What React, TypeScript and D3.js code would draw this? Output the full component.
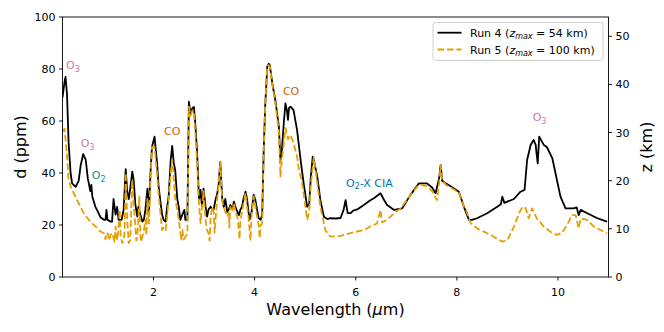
import React from 'react';
import * as d3 from 'd3';

// Run 4 (z_max = 54 km)
const run4Wavelength = [
  0.2, 0.24, 0.26, 0.29, 0.32, 0.36, 0.39, 0.46, 0.52, 0.56, 0.61, 0.66, 0.7, 0.75, 0.77, 0.79, 0.85, 0.89, 0.95,
  1.02, 1.05, 1.07, 1.09, 1.15, 1.18, 1.21, 1.25, 1.28, 1.31, 1.37, 1.41, 1.45, 1.48, 1.51, 1.54, 1.58, 1.61, 1.64,
  1.68, 1.7, 1.74, 1.78, 1.81, 1.84, 1.88, 1.91, 1.94, 1.97, 2.02, 2.07, 2.1, 2.14, 2.17, 2.2, 2.24, 2.27, 2.3, 2.34,
  2.37, 2.4, 2.43, 2.47, 2.5, 2.53, 2.57, 2.61, 2.63, 2.67, 2.7, 2.73, 2.77, 2.8, 2.83, 2.86, 2.9, 2.93, 2.96, 2.99,
  3.03, 3.06, 3.09, 3.13, 3.16, 3.19, 3.23, 3.26, 3.29, 3.32, 3.36, 3.39, 3.42, 3.46, 3.49, 3.52, 3.56, 3.59, 3.62,
  3.66, 3.69, 3.72, 3.75, 3.78, 3.82, 3.85, 3.88, 3.9, 3.94, 3.98, 4.01, 4.04, 4.08, 4.12, 4.15, 4.18, 4.21, 4.25,
  4.28, 4.3, 4.35, 4.41, 4.48, 4.51, 4.54, 4.58, 4.61, 4.64, 4.66, 4.68, 4.71, 4.77, 4.84, 4.91, 4.97, 5.04, 5.08,
  5.11, 5.15, 5.17, 5.24, 5.3, 5.37, 5.44, 5.5, 5.6, 5.7, 5.76, 5.8, 5.84, 5.9, 5.95, 6.03, 6.16, 6.29, 6.36, 6.49,
  6.55, 6.62, 6.76, 6.92, 7.08, 7.25, 7.41, 7.51, 7.58, 7.65, 7.68, 7.71, 7.78, 7.87, 8.04, 8.14, 8.24, 8.3, 8.4,
  8.6, 8.8, 8.87, 8.9, 8.94, 9.0, 9.13, 9.26, 9.34, 9.39, 9.46, 9.52, 9.56, 9.58, 9.6, 9.63, 9.72, 9.78, 9.89, 9.98,
  10.05, 10.15, 10.31, 10.37, 10.41, 10.45, 10.58, 10.78, 10.97,
];
const run4Depth = [
  69, 75, 77, 70, 52, 40, 36, 34.7, 37, 43, 47.3, 45, 38, 33, 35.4, 31, 27, 25.5, 23,
  22, 22, 25.8, 22, 21.3, 21.3, 30, 24, 27, 22, 22, 26, 41.5, 33, 30, 34, 40.5, 37, 28,
  23.2, 27, 24, 21.3, 22, 26, 34, 25, 40, 50, 54, 44, 35, 28.5, 24, 22, 21.3, 27, 31, 45,
  50.4, 44, 41, 30, 27, 22, 24, 25.8, 22, 22, 67.4, 63, 65, 65.4, 58, 48.8, 30, 33.5, 27, 34,
  27, 23.2, 26, 27, 26, 26, 30, 32, 36, 44.3, 30, 27, 30, 25, 26, 27.7, 26, 29, 27,
  25, 23.8, 26, 27, 30, 32.8, 30, 25, 22, 25, 31.6, 30, 27, 22.6, 22, 24, 48.8, 66, 80.9,
  82, 81.5, 74.5, 68, 57.8, 45, 48.8, 60, 66.8, 64, 60.4, 65, 65.5, 64.2, 56.5, 45, 36, 27, 28,
  38, 46.3, 45, 38.6, 29.6, 23.2, 22.3, 22.6, 22.5, 22.7, 25.8, 29.6, 24.6, 24.6, 25.5, 26, 27.7, 29.5, 30.3, 32.2,
  30, 27.7, 25.8, 26.4, 31.5, 36, 36, 34.4, 32.2, 38, 43, 37, 36, 35, 32.8, 27, 22, 22, 22.6,
  24.5, 27, 28, 30.9, 28.5, 29, 30, 32.8, 33.5, 45, 50.8, 52.7, 50.8, 47, 43.7, 54, 50.8, 50, 45.6, 37.3,
  30.9, 26.4, 26.4, 26.8, 23.8, 25.8, 24.5, 22.6, 21.3,
];

// Run 5 (z_max = 100 km)
const run5Wavelength = [
  0.2, 0.24, 0.26, 0.29, 0.32, 0.36, 0.39, 0.49, 0.62, 0.75, 0.89, 0.95, 1.02, 1.05, 1.07, 1.1, 1.12, 1.15, 1.18,
  1.21, 1.23, 1.25, 1.28, 1.3, 1.33, 1.35, 1.38, 1.41, 1.43, 1.45, 1.48, 1.51, 1.54, 1.58, 1.61, 1.64, 1.66, 1.68,
  1.7, 1.72, 1.74, 1.76, 1.78, 1.81, 1.84, 1.86, 1.88, 1.91, 1.94,
  1.97, 2.02, 2.07, 2.1, 2.14, 2.17, 2.2, 2.24, 2.27, 2.3, 2.34, 2.37, 2.4, 2.43, 2.47, 2.5, 2.53, 2.55, 2.57, 2.6,
  2.63, 2.67,
  2.7, 2.73, 2.77, 2.8, 2.83, 2.86, 2.9, 2.93, 2.96, 2.99, 3.03, 3.06, 3.09, 3.11, 3.13, 3.16, 3.19, 3.21, 3.23,
  3.26, 3.29,
  3.32, 3.36, 3.39, 3.42, 3.46, 3.49, 3.5, 3.52, 3.56, 3.59, 3.62, 3.66, 3.69, 3.7, 3.72, 3.75, 3.78, 3.82, 3.85,
  3.88, 3.9, 3.92,
  3.94, 3.98, 4.01, 4.04, 4.08, 4.1, 4.12, 4.15, 4.18, 4.21, 4.25, 4.28, 4.3, 4.35, 4.41, 4.48, 4.51, 4.54, 4.58,
  4.61,
  4.64, 4.66, 4.71, 4.77, 4.84, 4.87, 4.94, 5.04, 5.08, 5.11, 5.17, 5.24, 5.3, 5.4, 5.5, 5.7, 5.9, 6.03, 6.16, 6.29,
  6.42, 6.49, 6.52, 6.62, 6.76, 6.89, 7.08, 7.25, 7.41, 7.51, 7.58, 7.61, 7.65, 7.68, 7.71, 7.78, 7.87, 8.04, 8.14,
  8.17, 8.27, 8.4, 8.6, 8.73, 8.9, 9.0, 9.13, 9.23, 9.3, 9.36, 9.42, 9.49, 9.58, 9.72, 9.85, 9.98, 10.08, 10.18,
  10.28, 10.35, 10.41, 10.45, 10.58, 10.71, 10.91, 10.97,
];
const run5Depth = [
  56, 57, 53, 46.3, 37.3, 35, 33.5, 29.6, 24.5, 21.3, 18.7, 17.5, 16.8, 14.5, 17, 16.5, 14, 16.2, 16.9,
  15, 13.6, 19.4, 14.2, 17, 25.8, 16, 13, 14.2, 18, 40, 22, 13, 14.2, 37.3, 28, 20, 14, 15.5,
  22, 31, 16, 13.5, 15.5, 18, 22, 16, 30, 20.6, 37.3,
  50, 50, 40, 32, 24, 18, 19, 18, 23, 30, 40, 45, 38, 30, 25.8, 22, 17.4, 14, 18, 14.5,
  15.5, 16.5,
  65.5, 62, 64, 63, 55, 45, 28.3, 20.6, 27, 33, 22, 18, 16.8, 14, 23, 27, 25, 17, 23,
  30, 36,
  44.3, 29, 27, 25, 23.2, 25, 19, 27, 25, 28.5, 25, 23, 18, 14.5, 22, 25, 28, 32.2, 27,
  23, 18, 14,
  24, 31, 28, 24, 20, 15, 20, 20.5, 48, 66, 81, 81.5, 81, 74, 67, 56, 38.6, 45, 52,
  57.3,
  55, 53, 54.6, 51.5, 46.3, 42, 36, 22, 25, 35, 46, 36, 27, 18, 15.5, 15.8, 16.9, 17.5, 18, 19.4,
  20.6, 25.8, 21, 22, 24.5, 26.4, 31.5, 35.5, 35, 33, 30.5, 29.6, 36, 43, 37, 35.5, 34.5, 32.5, 27,
  26.5, 20.8, 18.7, 16.8, 15.5, 13.6, 14.2, 19.4, 24.5, 27, 26.5, 22.6, 26.4, 22.6, 19.4, 17.4, 16.2, 17, 20,
  23.8, 23.8, 18.7, 22.5, 22, 19.4, 17.4, 16.8,
];

const xTicks = [2, 4, 6, 8, 10];
const yTicks = [0, 20, 40, 60, 80, 100];
const zTicks = [0, 10, 20, 30, 40, 50];

const annotationText = ['O|3', 'O|3', 'O|2', 'CO', 'CO', 'O|2|-X CIA', 'O|3'];
const annotationWavelength = [0.27, 0.56, 0.78, 2.21, 4.56, 5.81, 9.5];
const annotationDepth = [79.9, 49.9, 37.6, 54.6, 70, 34.7, 60];
const annotationColor = ['#CC79A7', '#CC79A7', '#009E73', '#D55E00', '#D55E00', '#0072B2', '#CC79A7'];

const W = 664;
const H = 332;
const left = 62.5;
const right = 608.5;
const top = 17;
const bottom = 277;
const FONT = 'DejaVu Sans, sans-serif';

function Label({ spec, x, y, color }: { spec: string; x: number; y: number; color: string }) {
  const parts = spec.split('|');
  if (parts.length === 1) {
    return (
      <text x={x} y={y} fill={color} fontSize={11} fontFamily={FONT}>
        {spec}
      </text>
    );
  }
  return (
    <text x={x} y={y} fill={color} fontSize={11} fontFamily={FONT}>
      {parts[0]}
      <tspan dy={2.5} fontSize={8}>{parts[1]}</tspan>
      {parts[2] ? <tspan dy={-2.5}>{parts[2]}</tspan> : null}
    </text>
  );
}

export default function App() {
  const x = d3.scaleLinear().domain([0.2, 11]).range([left, right]);
  const y = d3.scaleLinear().domain([0, 100]).range([bottom, top]);
  const z = d3.scaleLinear().domain([0, 54]).range([bottom, top]);

  const line = d3
    .line<[number, number]>()
    .x((d) => x(d[0]))
    .y((d) => y(d[1]));

  const run4 = run4Wavelength.map((w, i) => [w, run4Depth[i]] as [number, number]);
  const run5 = run5Wavelength.map((w, i) => [w, run5Depth[i]] as [number, number]);

  return (
    <svg
      width={W}
      height={H}
      style={{ position: 'absolute', left: 0, top: 0, background: '#fff' }}
      fontFamily={FONT}
    >
      <rect x={0} y={0} width={W} height={H} fill="#fff" />
      <defs>
        <clipPath id="plotclip">
          <rect x={left} y={top} width={right - left} height={bottom - top} />
        </clipPath>
      </defs>

      <g clipPath="url(#plotclip)">
        <path d={line(run4) || ''} fill="none" stroke="#000" strokeWidth={1.8} strokeLinejoin="round" />
        <path
          d={line(run5) || ''}
          fill="none"
          stroke="#E69F00"
          strokeWidth={1.8}
          strokeDasharray="6.6,2.9"
          strokeLinejoin="round"
        />
      </g>

      {annotationText.map((t, i) => (
        <Label
          key={i}
          spec={t}
          x={x(annotationWavelength[i])}
          y={y(annotationDepth[i])}
          color={annotationColor[i]}
        />
      ))}

      {/* frame */}
      <rect x={left} y={top} width={right - left} height={bottom - top} fill="none" stroke="#000" strokeWidth={0.9} />

      {/* x ticks */}
      {xTicks.map((t) => (
        <g key={'x' + t}>
          <line x1={x(t)} x2={x(t)} y1={bottom} y2={bottom + 3.5} stroke="#000" strokeWidth={0.9} />
          <text x={x(t)} y={bottom + 19} textAnchor="middle" fontSize={11} fill="#000">
            {t}
          </text>
        </g>
      ))}
      {/* left ticks */}
      {yTicks.map((t) => (
        <g key={'y' + t}>
          <line x1={left - 3.5} x2={left} y1={y(t)} y2={y(t)} stroke="#000" strokeWidth={0.9} />
          <text x={left - 7} y={y(t) + 4} textAnchor="end" fontSize={11} fill="#000">
            {t}
          </text>
        </g>
      ))}
      {/* right ticks */}
      {zTicks.map((t) => (
        <g key={'z' + t}>
          <line x1={right} x2={right + 3.5} y1={z(t)} y2={z(t)} stroke="#000" strokeWidth={0.9} />
          <text x={right + 7} y={z(t) + 4} textAnchor="start" fontSize={11} fill="#000">
            {t}
          </text>
        </g>
      ))}

      {/* axis labels */}
      <text x={(left + right) / 2} y={315} textAnchor="middle" fontSize={16} fill="#000">
        Wavelength (<tspan fontStyle="italic">μ</tspan>m)
      </text>
      <text
        transform={`translate(26,${(top + bottom) / 2}) rotate(-90)`}
        textAnchor="middle"
        fontSize={16}
        fill="#000"
      >
        d (ppm)
      </text>
      <text
        transform={`translate(652,${(top + bottom) / 2}) rotate(-90)`}
        textAnchor="middle"
        fontSize={16}
        fill="#000"
      >
        z (km)
      </text>

      {/* legend */}
      <g>
        <rect x={433} y={22.5} width={170} height={38} rx={2.5} fill="#fff" fillOpacity={0.8} stroke="#ccc" strokeWidth={0.9} />
        <line x1={437.5} x2={461.5} y1={32.7} y2={32.7} stroke="#000" strokeWidth={1.8} />
        <line x1={437.5} x2={461.5} y1={49.5} y2={49.5} stroke="#E69F00" strokeWidth={1.8} strokeDasharray="6.6,2.9" />
        <text x={470} y={36.8} fontSize={11} fill="#000">
          Run 4 (<tspan fontStyle="italic">z</tspan>
          <tspan fontStyle="italic" fontSize={8} dy={2.5}>max</tspan>
          <tspan dy={-2.5}> = 54 km)</tspan>
        </text>
        <text x={470} y={53.6} fontSize={11} fill="#000">
          Run 5 (<tspan fontStyle="italic">z</tspan>
          <tspan fontStyle="italic" fontSize={8} dy={2.5}>max</tspan>
          <tspan dy={-2.5}> = 100 km)</tspan>
        </text>
      </g>
    </svg>
  );
}
